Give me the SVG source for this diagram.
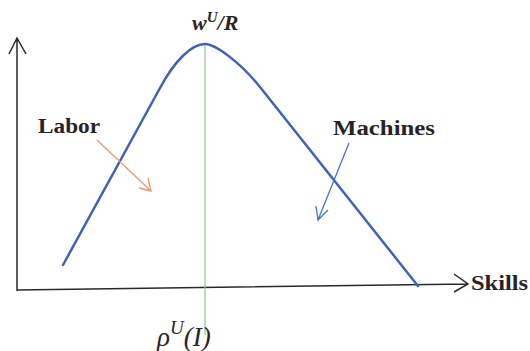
<svg xmlns="http://www.w3.org/2000/svg" width="530" height="351" viewBox="0 0 530 351">
<style>
.axis{stroke:#2a2a2a;stroke-width:1.5;fill:none}
.lbl{font-family:'Liberation Serif','Times New Roman',Times,serif;font-weight:bold;font-size:20px;fill:#2a2326}
.math{font-family:'Liberation Serif','Times New Roman',Times,serif;font-style:italic;fill:#2a2326}
</style>
<rect width="530" height="351" fill="#ffffff"/>
<g id="connectors">
<path class="axis" d="M17,291 L17,39 M9,54 L17,38 L26,54"/>
<path class="axis" d="M17,290 L468,284 M454,274 L468,284 L454,292"/>
<line x1="205" y1="44" x2="205" y2="335" stroke="#8cc68c" stroke-width="1.2"/>
<path d="M63,265 L160,88 C175,60 192,44 205,44 C215,44 240,62 260,87 L418,286" fill="none" stroke="#3f64b4" stroke-width="2.5" stroke-linecap="round"/>
<path d="M97,140 L151,191 M139,188 L151,191 L148,178" fill="none" stroke="#e89a72" stroke-width="1.3"/>
<path d="M349,143 L318,220 M316,206 L318,220 L328,210" fill="none" stroke="#4a74c4" stroke-width="1.3"/>
</g>
<g id="top-label"><text class="math" x="192" y="30" font-size="22" font-weight="bold">w<tspan font-size="15" dy="-8">U</tspan><tspan dy="8">/R</tspan></text></g>
<g id="labor"><text class="lbl" x="38" y="133" textLength="62" lengthAdjust="spacingAndGlyphs">Labor</text></g>
<g id="machines"><text class="lbl" x="333" y="135" textLength="102" lengthAdjust="spacingAndGlyphs">Machines</text></g>
<g id="skills"><text class="lbl" x="471" y="290" textLength="57" lengthAdjust="spacingAndGlyphs">Skills</text></g>
<g id="rho"><text class="math" x="157" y="346" font-size="27">ρ<tspan font-size="19" dy="-12">U</tspan><tspan dy="12">(I)</tspan></text></g>
</svg>
